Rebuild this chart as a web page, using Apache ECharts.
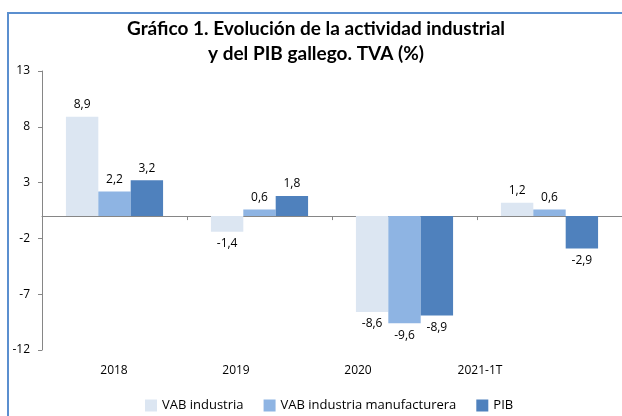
<!DOCTYPE html>
<html lang="es">
  <head>
    <meta charset="UTF-8" />
    <title>Gráfico 1</title>
    <script src="https://cdn.jsdelivr.net/npm/echarts@6/dist/echarts.min.js"></script>
    <style>
      html, body { margin: 0; padding: 0; background: #fff; }
      #app { width: 622px; height: 416px; }
    </style>
  </head>
  <body>
    <div id="app"></div>
    <script>
      const categories = ["2018", "2019", "2020", "2021-1T"];
      const vabIndustria = [8.9, -1.4, -8.6, 1.2];
      const vabManufacturera = [2.2, 0.6, -9.6, 0.6];
      const pib = [3.2, 1.8, -8.9, -2.9];
      const seriesNames = ["VAB industria", "VAB industria manufacturera", "PIB"];
      const colors = ["#dce6f2", "#8eb4e3", "#4f81bd"];

      const chart = echarts.init(document.getElementById("app"));

      const fmt = (p) => String(p.value).replace(".", ",");

      function barSeries(name, data, color) {
        return {
          name: name,
          type: "bar",
          // negative values get their label under the bar
          data: data.map((v) =>
            v < 0 ? { value: v, label: { position: "bottom" } } : v
          ),
          barGap: "0%",
          barCategoryGap: "33%",
          itemStyle: { color: color },
          label: {
            show: true,
            formatter: fmt,
            color: "#000",
            fontSize: 12,
            fontFamily: "Open Sans",
            position: "top",
            distance: 6,
          },
        };
      }

      const option = {
        animation: false,
        textStyle: { fontFamily: "Open Sans" },
        title: {
          text: "Gráfico 1. Evolución de la actividad industrial\ny del PIB gallego. TVA (%)",
          left: 311,
          textAlign: "center",
          top: 11,
          textStyle: {
            fontFamily: "Lato",
            fontWeight: "bold",
            fontSize: 19,
            lineHeight: 25,
            color: "#000",
          },
        },
        legend: {
          data: seriesNames,
          bottom: -1,
          left: 140,
          itemWidth: 12,
          itemHeight: 12,
          itemGap: 20,
          icon: "rect",
          textStyle: { fontSize: 13, color: "#000", fontFamily: "Open Sans" },
        },
        graphic: [
          {
            type: "polyline",
            shape: { points: [[8, 420], [8, 13], [630, 13]] },
            style: { stroke: "#5b8fcf", lineWidth: 2, fill: null },
          },
        ],
        grid: [
          { left: 42, top: 71, width: 582, bottom: 66 },
          { left: 53, top: 71, width: 488, bottom: 66 },
        ],
        xAxis: [
          {
            type: "category",
            data: categories,
            gridIndex: 0,
            axisLine: { onZero: true, lineStyle: { color: "#868686" } },
            axisTick: { show: true, length: 4 },
            axisLabel: { show: false },
          },
          {
            type: "category",
            data: categories,
            gridIndex: 1,
            axisLine: { show: false },
            axisTick: { show: false },
            axisLabel: { color: "#000", fontSize: 12, margin: 15 },
          },
        ],
        yAxis: [
          {
            type: "value",
            gridIndex: 0,
            min: -12,
            max: 13,
            interval: 5,
            axisLine: { show: true, lineStyle: { color: "#868686" } },
            axisTick: { show: true, length: 4 },
            splitLine: { show: false },
            axisLabel: { color: "#000", fontSize: 12, margin: 12 },
          },
          {
            type: "value",
            gridIndex: 1,
            min: -12,
            max: 13,
            show: false,
          },
        ],
        series: [
          barSeries(seriesNames[0], vabIndustria, colors[0]),
          barSeries(seriesNames[1], vabManufacturera, colors[1]),
          barSeries(seriesNames[2], pib, colors[2]),
        ],
      };

      chart.setOption(option);
    </script>
  </body>
</html>
